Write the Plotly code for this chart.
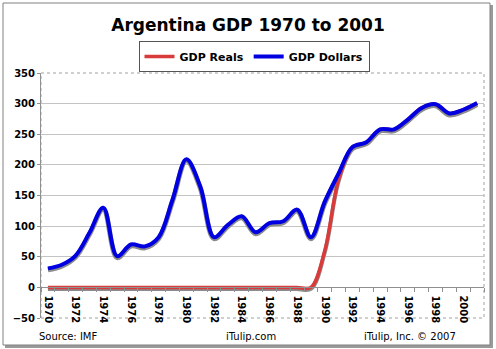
import plotly.graph_objects as go

years = list(range(1970, 2002))
gdp_dollars = [31, 37, 52, 89, 130, 51, 70, 67, 82, 143, 209, 165, 82, 102, 116,
               90, 105, 108, 127, 82, 140, 186, 229, 237, 258, 258, 274, 293, 299, 284, 290, 301]
gdp_reals = [0, 0, 0, 0, 0, 0, 0, 0, 0, 0, 0, 0, 0, 0, 0,
             0, 0, 0, 0, 0, 60, 176, 229, 237, 258, 258, 274, 293, 299, 284, 290, 301]
tick_years = list(range(1970, 2001, 2))

W, H = 496, 349
L, R, T, B = 41, 12, 73, 31
PW, PH = W - L - R, H - T - B

def px(x):
    return (x - L) / PW

def py(y):
    return (H - B - y) / PH

# drop shadow: same series drawn slightly lower (about 1.5 px)
shadow_dy = 400 / PH * 1.5

fig = go.Figure()
for vals, w in [(gdp_reals, 4), (gdp_dollars, 5)]:
    fig.add_trace(go.Scatter(x=years, y=[v - shadow_dy for v in vals], mode="lines",
                             line=dict(color="#8c8c8c", width=w, shape="spline"),
                             showlegend=False, hoverinfo="skip"))
fig.add_trace(go.Scatter(x=years, y=gdp_reals, mode="lines", name="GDP Reals",
                         line=dict(color="#d93a3a", width=3.5, shape="spline")))
fig.add_trace(go.Scatter(x=years, y=gdp_dollars, mode="lines", name="GDP Dollars",
                         line=dict(color="#0000e0", width=4, shape="spline")))

tickfont = dict(family="DejaVu Sans", size=10, color="#000000", weight="bold")

fig.update_layout(
    width=W, height=H,
    margin=dict(l=L, r=R, t=T, b=B, pad=0),
    paper_bgcolor="white", plot_bgcolor="rgba(0,0,0,0)",
    font=dict(family="DejaVu Sans", color="#000"),
    title=dict(text="<b>Argentina GDP 1970 to 2001</b>", x=0.5, xanchor="center", xref="container",
               y=(H - 25) / H, yanchor="middle", yref="container",
               font=dict(family="DejaVu Sans", size=17, color="#000")),
    legend=dict(orientation="h", x=px(254), xanchor="center", y=py(41), yanchor="top",
                bordercolor="#555555", borderwidth=1, bgcolor="white",
                font=dict(family="DejaVu Sans", size=11, color="#000", weight="bold"),
                itemwidth=30, tracegroupgap=0),
    xaxis=dict(range=[1969.5, 2001.5], anchor="free", position=0.125,
               tickmode="array", tickvals=tick_years, ticktext=[str(y) for y in tick_years],
               tickangle=90, tickfont=tickfont, ticks="", ticklabelstandoff=5,
               showgrid=False, zeroline=False, showline=True, linecolor="#909090", linewidth=1,
               minor=dict(tick0=1969.5, dtick=1, ticks="outside", ticklen=4, tickcolor="#909090", showgrid=False)),
    yaxis=dict(range=[-50, 350], dtick=50, tickfont=tickfont,
               ticks="outside", ticklen=3, tickcolor="#909090",
               showgrid=True, gridcolor="#c4c4c4", gridwidth=1, zeroline=False,
               showline=True, linecolor="#909090", linewidth=1),
    shapes=[
        dict(type="rect", xref="paper", yref="paper", x0=px(5), x1=px(493), y0=py(5), y1=py(348),
             fillcolor="#9a9a9a", line=dict(width=0), layer="below"),
        dict(type="rect", xref="paper", yref="paper", x0=px(3), x1=px(490), y0=py(3), y1=py(345),
             fillcolor="white", line=dict(color="#808080", width=1), layer="below"),
        dict(type="rect", xref="paper", yref="paper", x0=0, x1=1, y0=0, y1=1,
             line=dict(color="#a0a0a0", width=1, dash="dot"), layer="below"),
    ],
    annotations=[
        dict(text="Source: IMF", xref="paper", yref="paper", x=px(37), xanchor="left", y=py(336), yanchor="middle",
             showarrow=False, font=dict(family="DejaVu Sans", size=10, color="#000")),
        dict(text="iTulip.com", xref="paper", yref="paper", x=px(251), xanchor="center", y=py(336), yanchor="middle",
             showarrow=False, font=dict(family="DejaVu Sans", size=10, color="#000")),
        dict(text="iTulip, Inc. © 2007", xref="paper", yref="paper", x=px(458), xanchor="right", y=py(336),
             yanchor="middle", showarrow=False, font=dict(family="DejaVu Sans", size=10, color="#000")),
    ],
)

fig.write_html("out.html")
